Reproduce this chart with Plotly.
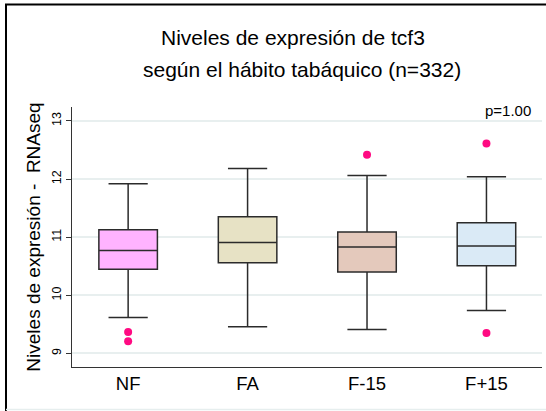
import plotly.graph_objects as go

categories = ["NF", "FA", "F-15", "F+15"]
q1 = [10.45, 10.56, 10.40, 10.51]
median = [10.77, 10.91, 10.83, 10.85]
q3 = [11.13, 11.35, 11.09, 11.25]
lower_whisker = [9.62, 9.46, 9.41, 9.74]
upper_whisker = [11.92, 12.18, 12.06, 12.04]
outlier_x = ["NF", "NF", "F-15", "F+15", "F+15"]
outlier_y = [9.37, 9.21, 12.42, 12.61, 9.35]
fill_colors = ["#FFB3FF", "#E7E2C5", "#E4C9BC", "#DAEAF6"]

W, H = 546, 411
L, R, T, B = 72, 4, 107, 44

fig = go.Figure()
for i, c in enumerate(categories):
    fig.add_trace(go.Box(
        x=[c], q1=[q1[i]], median=[median[i]], q3=[q3[i]],
        lowerfence=[lower_whisker[i]], upperfence=[upper_whisker[i]],
        fillcolor=fill_colors[i], line=dict(color="#2b2b2b", width=1.5),
        width=0.49, whiskerwidth=0.67, boxpoints=False, showlegend=False,
        hoverinfo="skip"))
fig.add_trace(go.Scatter(
    x=outlier_x, y=outlier_y, mode="markers",
    marker=dict(color="#FF0A82", size=8), showlegend=False, hoverinfo="skip"))

pw = W - L - R
ph = H - T - B
def px(x):
    return (x - L) / pw
def py(y):
    return (H - B - y) / ph

fig.add_shape(type="line", xref="paper", yref="paper",
              x0=px(5), x1=px(546), y0=py(4.5), y1=py(4.5),
              line=dict(color="black", width=2))
fig.add_shape(type="line", xref="paper", yref="paper",
              x0=px(6), x1=px(6), y0=py(4), y1=py(411),
              line=dict(color="black", width=2))
fig.add_shape(type="line", xref="paper", yref="paper",
              x0=px(6), x1=px(546), y0=py(409.5), y1=py(409.5),
              line=dict(color="#E6EEEE", width=1.5))

fig.add_annotation(text="Niveles de expresión de tcf3", xref="paper", yref="paper",
                   x=px(293), y=py(37), showarrow=False,
                   font=dict(size=21, color="black"), xanchor="center", yanchor="middle")
fig.add_annotation(text="según el hábito tabáquico (n=332)", xref="paper", yref="paper",
                   x=px(302), y=py(69), showarrow=False,
                   font=dict(size=21, color="black"), xanchor="center", yanchor="middle")
fig.add_annotation(text="p=1.00", xref="paper", yref="paper",
                   x=px(508), y=py(111), showarrow=False,
                   font=dict(size=15, color="black"), xanchor="center", yanchor="middle")

fig.update_layout(
    width=W, height=H,
    margin=dict(l=L, r=R, t=T, b=B),
    paper_bgcolor="white", plot_bgcolor="white",
    font=dict(family="Liberation Sans, Arial, sans-serif", color="black"),
    xaxis=dict(type="category", categoryorder="array", categoryarray=categories,
               range=[-0.47, 3.465], showline=True, linecolor="#333", linewidth=1,
               showgrid=False, ticks="", tickfont=dict(size=18.5), zeroline=False),
    yaxis=dict(range=[8.767, 13.24], tickvals=[9, 10, 11, 12, 13],
               showline=True, linecolor="#333", linewidth=1,
               ticks="outside", ticklen=5, tickcolor="#333", tickangle=-90,
               tickfont=dict(size=12.5), showgrid=True, gridcolor="#E8EFEF", gridwidth=1.5,
               zeroline=False,
               title=dict(text="Niveles de expresión -  RNAseq", font=dict(size=19), standoff=4)),
)

fig.write_html("out.html")
